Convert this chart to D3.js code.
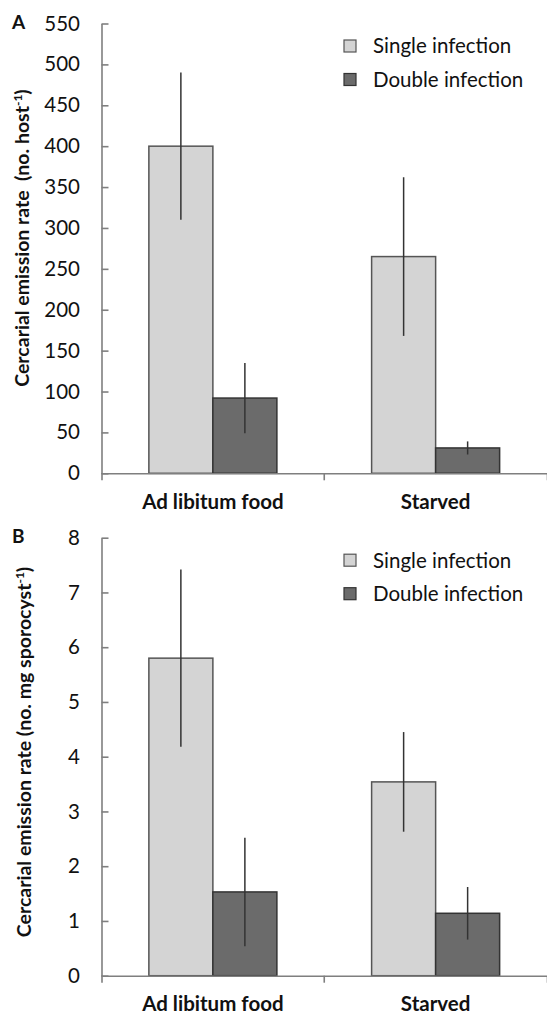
<!DOCTYPE html>
<html>
<head>
<meta charset="utf-8">
<style>
  body { margin: 0; background: #fff; }
  text { font-family: Lato, "Open Sans", sans-serif; fill: #111; }
  .tick text { font-size: 20.5px; }
  .axis path, .axis line { stroke: #7f7f7f; stroke-width: 1.6; }
  .cat { font-size: 19px; font-weight: bold; }
  .ytitle { font-size: 19.5px; font-weight: bold; white-space: pre; }
  .panel-label { font-size: 19px; font-weight: bold; }
  .legend text { font-size: 20.5px; }
</style>
</head>
<body>
<svg width="547" height="1017"></svg>
<script src="https://cdn.jsdelivr.net/npm/d3@7"></script>
<script>

// data
var categories = ["Ad libitum food", "Starved"];
var groups = ["Single infection", "Double infection"];

var hostSingle = [400, 265];
var hostSingleErr = [90, 97];
var hostDouble = [92, 31];
var hostDoubleErr = [43, 8];
var hostTicks = [0, 50, 100, 150, 200, 250, 300, 350, 400, 450, 500, 550];

var sporoSingle = [5.8, 3.54];
var sporoSingleErr = [1.62, 0.91];
var sporoDouble = [1.53, 1.14];
var sporoDoubleErr = [0.99, 0.48];
var sporoTicks = [0, 1, 2, 3, 4, 5, 6, 7, 8];

var fills = ["#d4d4d4", "#6b6b6b"];
var strokes = ["#555", "#333"];

var svg = d3.select("svg");

var x = d3.scaleBand()
    .domain(categories)
    .range([101.5, 547])
    .paddingInner(0)
    .paddingOuter(0);

var xSub = d3.scaleBand()
    .domain(groups)
    .range([0, x.bandwidth()])
    .paddingInner(0)
    .paddingOuter(0.74);

function drawPanel(opt) {
  var y = d3.scaleLinear()
      .domain([0, opt.ticks[opt.ticks.length - 1]])
      .range([opt.bottom, opt.top]);

  var g = svg.append("g");

  var rows = categories.map(function(c, i) {
    return [
      {cat: c, grp: groups[0], v: opt.single[i], e: opt.singleErr[i], k: 0},
      {cat: c, grp: groups[1], v: opt.double[i], e: opt.doubleErr[i], k: 1}
    ];
  });
  var bars = [].concat.apply([], rows);

  // bars
  g.selectAll("rect.bar")
    .data(bars)
    .enter().append("rect")
      .attr("class", "bar")
      .attr("x", function(d) { return x(d.cat) + xSub(d.grp); })
      .attr("y", function(d) { return y(d.v); })
      .attr("width", xSub.bandwidth())
      .attr("height", function(d) { return y(0) - y(d.v); })
      .attr("fill", function(d) { return fills[d.k]; })
      .attr("stroke", function(d) { return strokes[d.k]; })
      .attr("stroke-width", 1.5);

  // error bars, no caps
  g.selectAll("line.err")
    .data(bars)
    .enter().append("line")
      .attr("class", "err")
      .attr("x1", function(d) { return x(d.cat) + xSub(d.grp) + xSub.bandwidth() / 2; })
      .attr("x2", function(d) { return x(d.cat) + xSub(d.grp) + xSub.bandwidth() / 2; })
      .attr("y1", function(d) { return y(d.v + d.e); })
      .attr("y2", function(d) { return y(d.v - d.e); })
      .attr("stroke", "#333")
      .attr("stroke-width", 1.5);

  // y axis, ticks pointing inward
  g.append("g")
      .attr("class", "axis")
      .attr("transform", "translate(" + x.range()[0] + ",0)")
      .call(d3.axisLeft(y).tickValues(opt.ticks).tickSizeInner(-7).tickSizeOuter(0).tickPadding(21.5))
      .call(function(a) { a.selectAll(".tick text").attr("fill", "#111"); });

  // x axis
  var xa = g.append("g")
      .attr("class", "axis")
      .attr("transform", "translate(0," + y(0) + ")")
      .call(d3.axisBottom(x).tickSizeInner(0).tickSizeOuter(7).tickPadding(21));
  xa.selectAll(".tick text").attr("class", "cat").attr("fill", "#111");
  xa.append("line")
      .attr("x1", x(categories[1]))
      .attr("x2", x(categories[1]))
      .attr("y1", 0)
      .attr("y2", 7);

  // y title
  var t = g.append("text")
      .attr("class", "ytitle")
      .attr("text-anchor", "middle")
      .attr("transform", "translate(" + opt.titleX + "," + opt.titleY + ") rotate(-90)");
  t.append("tspan").text(opt.title);
  t.append("tspan").attr("font-size", "12px").attr("baseline-shift", "super").text("-1");
  t.append("tspan").text(")");

  // panel letter
  g.append("text")
      .attr("class", "panel-label")
      .attr("x", 12)
      .attr("y", opt.top + 5.5)
      .text(opt.letter);

  // legend
  var lg = g.append("g")
      .attr("class", "legend")
      .attr("transform", "translate(344," + (opt.top + 16.5) + ")");
  var item = lg.selectAll("g")
    .data(groups)
    .enter().append("g")
      .attr("transform", function(d, i) { return "translate(0," + (i * 33.5) + ")"; });
  item.append("rect")
      .attr("width", 12)
      .attr("height", 12)
      .attr("fill", function(d, i) { return fills[i]; })
      .attr("stroke", function(d, i) { return strokes[i]; })
      .attr("stroke-width", 1.2);
  item.append("text")
      .attr("x", 29)
      .attr("y", 6)
      .attr("dy", "0.36em")
      .text(function(d) { return d; });
}

drawPanel({
  letter: "A",
  top: 23.5, bottom: 473.3,
  ticks: hostTicks,
  single: hostSingle, singleErr: hostSingleErr,
  double: hostDouble, doubleErr: hostDoubleErr,
  title: "Cercarial emission rate  (no. host",
  titleX: 29, titleY: 238
});

drawPanel({
  letter: "B",
  top: 537.7, bottom: 975.7,
  ticks: sporoTicks,
  single: sporoSingle, singleErr: sporoSingleErr,
  double: sporoDouble, doubleErr: sporoDoubleErr,
  title: "Cercarial emission rate (no. mg sporocyst",
  titleX: 31, titleY: 752
});

</script>
</body>
</html>
